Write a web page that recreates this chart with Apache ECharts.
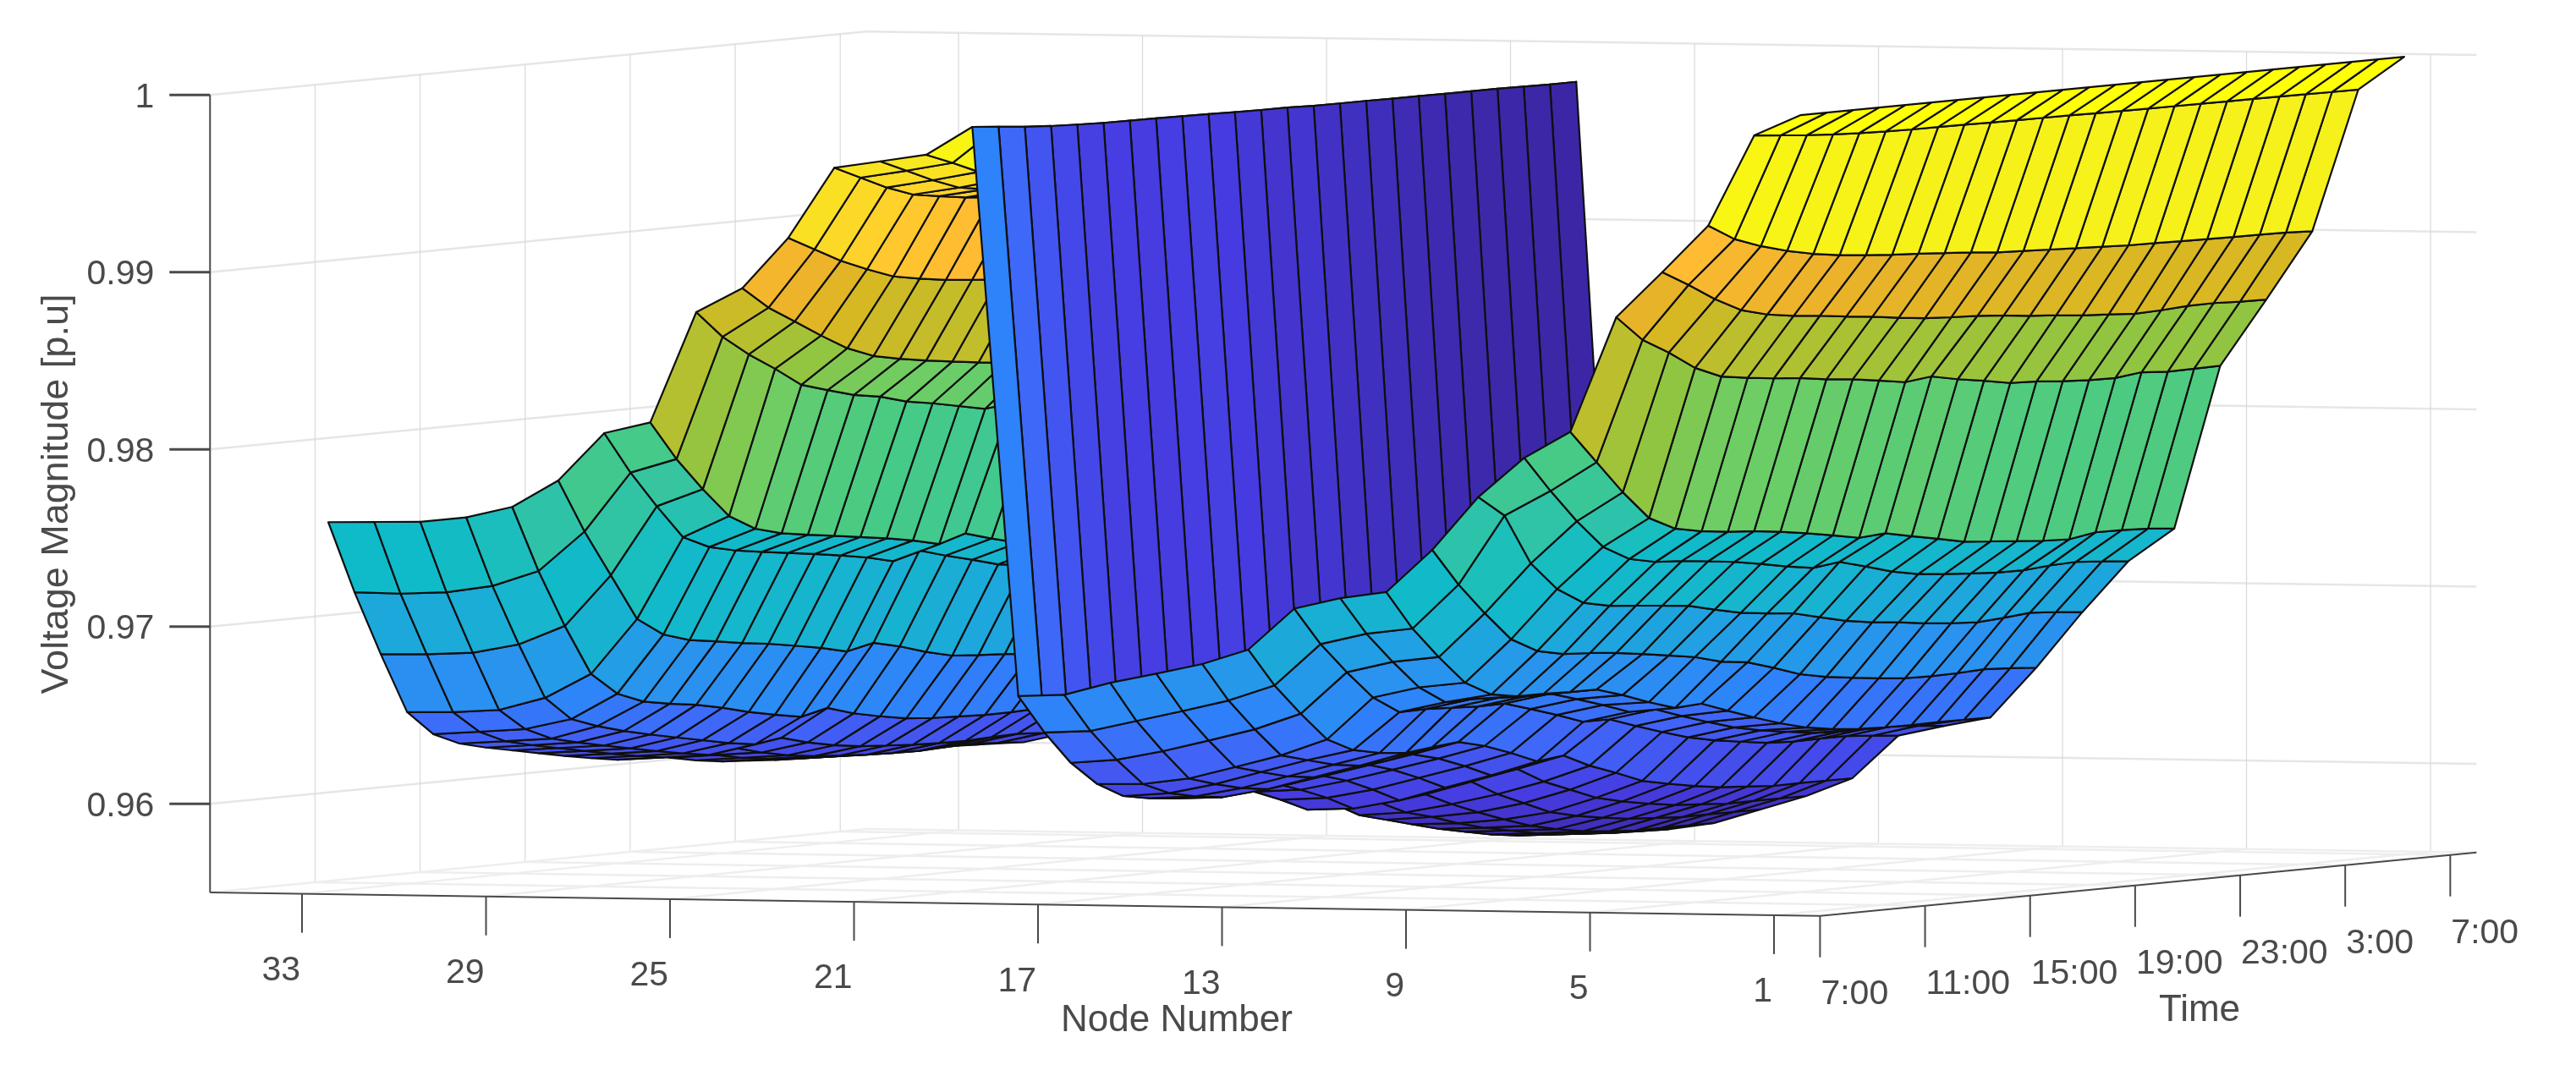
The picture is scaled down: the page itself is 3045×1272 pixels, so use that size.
<!DOCTYPE html>
<html>
<head>
<meta charset="utf-8">
<title>Voltage magnitude surface</title>
<style>html,body{margin:0;padding:0;background:#fff;}#main{width:3045px;height:1272px;}</style>
<script src="https://cdn.jsdelivr.net/npm/echarts@6/dist/echarts.min.js"></script>
</head>
<body>
<div id="main"></div>
<script>
// ---------- data ----------
const nodeTickLabels = [33, 29, 25, 21, 17, 13, 9, 5, 1];
const timeTickLabels = ['7:00', '11:00', '15:00', '19:00', '23:00', '3:00', '7:00'];
const timeTickSteps = [0, 4, 8, 12, 16, 20, 24];
const voltageTicks = [0.96, 0.97, 0.98, 0.99, 1];
const voltageTickLabels = ['0.96', '0.97', '0.98', '0.99', '1'];
const nodeTitle = 'Node Number';
const timeTitle = 'Time';
const voltageTitle = 'Voltage Magnitude [p.u]';

// one row per node (1..33), one value per hour step (1..24)
const node1  = [1,1,1,1,1,1,1,1,1,1,1,1,1,1,1,1,1,1,1,1,1,1,1,1];
const node2  = [.99882,.99868,.99855,.99845,.99838,.99833,.9983,.99829,.99828,.99826,.99825,.99824,.99823,.99821,.9982,.99819,.99818,.99817,.99816,.99816,.99815,.99814,.99812,.99811];
const node3  = [.99369,.99279,.99225,.99184,.99153,.99131,.99117,.99105,.99096,.99086,.99075,.99061,.99055,.99048,.99042,.99036,.99029,.99027,.99024,.99021,.99019,.99018,.99015,.99008];
const node4  = [.99103,.99017,.98923,.98846,.98807,.98785,.98771,.98753,.98737,.98717,.987,.98691,.98685,.98673,.98656,.98645,.9863,.98621,.98611,.98616,.98626,.98628,.98621,.98619];
const node5  = [.98845,.98703,.98617,.98516,.98453,.98431,.98414,.98402,.9838,.98366,.98344,.98321,.98339,.98309,.98286,.98259,.98254,.9824,.98232,.9823,.98248,.98237,.98239,.98242];
const node6  = [.98194,.98009,.97825,.97665,.97591,.97562,.97545,.97534,.97516,.97493,.97467,.97439,.9745,.97419,.97391,.9736,.97347,.97335,.97322,.97316,.97341,.97339,.97333,.97319];
const node7  = [.98044,.97843,.97658,.97499,.97416,.97385,.97376,.9736,.97342,.97316,.97288,.97265,.97285,.97245,.97202,.97173,.97159,.97148,.97139,.97137,.9715,.97156,.97145,.97131];
const node8  = [.97819,.977,.97416,.97257,.97165,.97134,.9712,.97106,.97091,.97055,.97023,.97005,.96991,.96955,.9692,.96897,.96883,.96863,.96849,.9684,.96851,.96865,.96855,.9684];
const node9  = [.97517,.97307,.97131,.9697,.96889,.96858,.96849,.96835,.96815,.96792,.96769,.96729,.96711,.96666,.96615,.96586,.96567,.96549,.96535,.96532,.96535,.96543,.96534,.96523];
const node10 = [.97275,.97055,.9688,.96721,.9664,.96616,.96616,.96611,.96611,.96565,.96511,.96464,.96474,.9642,.96368,.9632,.96282,.96259,.96245,.9624,.96239,.96241,.9624,.96238];
const node11 = [.97237,.97022,.96849,.96691,.96593,.96596,.96589,.96582,.96584,.96539,.96491,.96438,.96438,.96386,.96338,.96293,.96262,.9624,.96219,.96212,.96214,.96214,.96202,.96187];
const node12 = [.97174,.9696,.96787,.9663,.96533,.96536,.96529,.96522,.96524,.96479,.96431,.96378,.96378,.96326,.96278,.96233,.96202,.9618,.96159,.96152,.96154,.96154,.96142,.96128];
const node13 = [.96939,.96723,.96549,.9639,.96315,.96285,.9627,.96288,.96303,.96267,.96213,.96151,.9617,.96098,.96044,.95984,.95953,.95926,.95905,.95895,.95884,.95886,.95885,.95884];
const node14 = [.96854,.96634,.96457,.96296,.96255,.96215,.96195,.96208,.9623,.96192,.96135,.96068,.9609,.96005,.95945,.95885,.9585,.95823,.95801,.95791,.9578,.95782,.95781,.9578];
const node15 = [.96796,.96571,.9639,.96226,.96184,.96145,.96125,.9614,.9617,.96125,.96065,.95995,.96015,.9593,.95865,.958,.95765,.9574,.9572,.9571,.957,.95702,.95701,.957];
const node16 = [.96741,.96511,.96326,.96158,.96112,.96075,.96055,.96075,.96105,.9606,.95995,.9592,.9594,.9587,.9581,.95755,.95705,.95672,.95645,.95631,.9562,.95622,.95621,.9562];
const node17 = [.96669,.96451,.96274,.96123,.96057,.96025,.96005,.96025,.96055,.96005,.95945,.9587,.9589,.9582,.9578,.9573,.9569,.9566,.9563,.9561,.956,.9559,.95585,.9558];
const node18 = [.96658,.96438,.96253,.9612,.96037,.9601,.95995,.9601,.96025,.9599,.9593,.9586,.9588,.958,.9576,.9572,.9568,.9565,.9562,.956,.9559,.9558,.95575,.9557];
const node19 = [.99866,.99852,.99838,.99828,.99822,.99817,.99815,.99814,.99812,.99809,.99806,.99804,.99803,.99799,.99798,.99798,.99796,.99796,.99795,.99795,.99795,.99793,.9979,.99791];
const node20 = [.99705,.99645,.9958,.99525,.99505,.99485,.99473,.99462,.99452,.99443,.99433,.99423,.99427,.99416,.99406,.99396,.9939,.99384,.9938,.99378,.99382,.99383,.99379,.99372];
const node21 = [.99664,.99597,.99529,.99473,.9945,.9943,.99418,.99407,.99397,.99388,.99378,.99368,.99372,.99361,.99351,.99341,.99335,.99329,.99325,.99323,.99327,.99328,.99324,.99317];
const node22 = [.99624,.99554,.99484,.9943,.99407,.99385,.99372,.9936,.9935,.99342,.99332,.99322,.99326,.99315,.99305,.99295,.99288,.99282,.99278,.99276,.9928,.99281,.99277,.9927];
const node23 = [.99225,.99146,.99067,.99005,.9895,.98923,.98902,.98888,.98875,.98862,.98848,.98835,.98842,.98825,.98805,.98785,.98772,.98762,.98755,.98752,.9876,.98762,.98755,.98745];
const node24 = [.98937,.98813,.98721,.98627,.98541,.98483,.98453,.98429,.98409,.9839,.98372,.98352,.98365,.98342,.98318,.98295,.98282,.98272,.98264,.98262,.98272,.98276,.98268,.98255];
const node25 = [.98798,.98645,.98531,.98436,.98331,.98287,.98245,.98221,.98179,.98155,.98125,.98095,.98112,.98085,.9806,.98035,.98022,.9801,.98002,.98,.98012,.98016,.98008,.97995];
const node26 = [.98172,.97951,.97767,.97601,.97515,.97475,.97452,.97432,.97411,.97389,.97363,.97328,.97374,.97331,.97293,.97253,.97235,.97222,.97212,.9721,.97225,.9723,.9722,.97205];
const node27 = [.98108,.97871,.97667,.97478,.97408,.97374,.97352,.97332,.97311,.97289,.97263,.97228,.97274,.97231,.97193,.97153,.97135,.97122,.97112,.9711,.97125,.9713,.9712,.97105];
const node28 = [.97837,.97535,.97274,.97013,.96911,.96865,.96843,.9682,.96801,.96776,.96749,.96715,.96749,.96715,.96669,.96634,.96623,.96614,.966,.96597,.96605,.9661,.96603,.96595];
const node29 = [.97684,.97308,.96984,.96699,.96573,.96514,.96488,.96467,.96436,.96398,.96368,.96342,.96378,.96333,.96302,.96276,.96264,.96259,.96253,.96254,.9626,.96263,.96255,.96245];
const node30 = [.97621,.9722,.96876,.9656,.96426,.96372,.9633,.96296,.96265,.96235,.96205,.96183,.96206,.96165,.96135,.96115,.96105,.96095,.9609,.96088,.96095,.961,.9609,.9608];
const node31 = [.97592,.97181,.96825,.96488,.96366,.96298,.96262,.9623,.962,.9617,.96143,.9612,.96145,.96105,.96075,.96055,.96045,.96035,.9603,.96028,.96035,.9604,.9603,.9602];
const node32 = [.97588,.97169,.96813,.96472,.96347,.96279,.96243,.96212,.96182,.96152,.96125,.96102,.96127,.96087,.96057,.96037,.96027,.96017,.96012,.9601,.96017,.96022,.96012,.96002];
const node33 = [.97583,.97173,.96809,.96469,.96329,.96262,.96225,.96195,.96165,.96135,.96108,.96085,.96108,.96068,.96038,.96018,.96008,.95998,.95992,.9599,.95998,.96003,.95993,.95983];

const voltage = [node1,node2,node3,node4,node5,node6,node7,node8,node9,node10,node11,node12,node13,node14,node15,node16,node17,node18,node19,node20,node21,node22,node23,node24,node25,node26,node27,node28,node29,node30,node31,node32,node33];

// colour scale: voltage -> parula-like colour
const colourVolts = [.9557,.96,.964,.9666,.9684,.9713,.9732,.9759,.9782,.9819,.9843,.9862,.988,.9901,.9913,.9937,.9945,.9963,.998,1];
const colourRGB = [[60,38,165],[70,60,225],[65,100,248],[46,130,250],[42,145,240],[30,165,222],[22,182,205],[15,187,200],[45,195,170],[70,202,135],[110,205,100],[145,197,65],[180,192,48],[215,184,34],[235,178,42],[255,187,50],[255,205,45],[250,225,35],[245,240,28],[255,255,5]];

// ---------- 3-D view of the box ----------
const NODE_MAX = 35, TIME_MAX = 25, V_MIN = 0.955, V_MAX = 1;
const VIEW = {ox: 2151.4, oy: 1082.7, nx: -54.375, ny: -0.79, tx: 31.04, ty: -3, vy: -20950};
function project(node, time, volt) {
  return [VIEW.ox + VIEW.nx * node + VIEW.tx * time,
          VIEW.oy + VIEW.ny * node + VIEW.ty * time + VIEW.vy * (volt - V_MIN)];
}
function colourOf(v) {
  let i = 0;
  while (i < colourVolts.length - 2 && v > colourVolts[i + 1]) i++;
  const f = Math.max(0, Math.min(1, (v - colourVolts[i]) / (colourVolts[i + 1] - colourVolts[i])));
  const a = colourRGB[i], b = colourRGB[i + 1];
  return 'rgb(' + [0, 1, 2].map(k => Math.round(a[k] + (b[k] - a[k]) * f)).join(',') + ')';
}

// cells drawn far to near: late hours first, high node numbers first
const cells = [];
for (let t = 22; t >= 0; t--) for (let n = 31; n >= 0; n--) cells.push([n, t]);

// guide lines in box coordinates
const nodeSteps = nodeTickLabels.slice();
const timeSteps = timeTickSteps.slice();
const gridLines = [];
voltageTicks.forEach(v => {
  gridLines.push({a: [NODE_MAX, 0, v], b: [NODE_MAX, TIME_MAX, v], w: 2.5, c: '#e6e6e6'});
  gridLines.push({a: [NODE_MAX, TIME_MAX, v], b: [0, TIME_MAX, v], w: 2.5, c: '#e6e6e6'});
});
timeSteps.forEach(t => {
  if (t > 0) gridLines.push({a: [NODE_MAX, t, V_MIN], b: [NODE_MAX, t, V_MAX], w: 1.2, c: '#d9d9d9'});
  if (t > 0) gridLines.push({a: [NODE_MAX, t, V_MIN], b: [0, t, V_MIN], w: 2.5, c: '#eeeeee'});
});
nodeSteps.forEach(n => {
  gridLines.push({a: [n, TIME_MAX, V_MIN], b: [n, TIME_MAX, V_MAX], w: 1.2, c: '#d9d9d9'});
  gridLines.push({a: [n, 0, V_MIN], b: [n, TIME_MAX, V_MIN], w: 2.5, c: '#eeeeee'});
});
gridLines.push({a: [NODE_MAX, 0, V_MIN], b: [NODE_MAX, TIME_MAX, V_MIN], w: 2.5, c: '#eeeeee'});
gridLines.push({a: [NODE_MAX, TIME_MAX, V_MIN], b: [0, TIME_MAX, V_MIN], w: 2.5, c: '#eeeeee'});

const axisLines = [
  {a: [NODE_MAX, 0, V_MIN], b: [NODE_MAX, 0, V_MAX]},
  {a: [NODE_MAX, 0, V_MIN], b: [0, 0, V_MIN]},
  {a: [0, 0, V_MIN], b: [0, TIME_MAX, V_MIN]}
];
const TICK_NODE = 46, TICK_TIME = 49, TICK_V = 48;
const TEXT = '#4a4a4a', FONT = '"Liberation Sans", Arial, sans-serif';

const labels = [];
nodeTickLabels.forEach(n => labels.push({p: [n, 0, V_MIN], dx: -2, dy: 91, text: String(n), align: 'right', size: 41}));
timeTickLabels.forEach((s, i) => labels.push({p: [0, timeTickSteps[i], V_MIN], dx: 1, dy: 93, text: s, align: 'left', size: 41}));
voltageTicks.forEach((v, i) => labels.push({p: [NODE_MAX, 0, v], dx: -66, dy: 3, text: voltageTickLabels[i], align: 'right', size: 41}));

function seg(api, a, b) {
  const p = api.coord(project(a[0], a[1], a[2]));
  const q = api.coord(project(b[0], b[1], b[2]));
  return {x1: p[0], y1: p[1], x2: q[0], y2: q[1]};
}

const option = {
  animation: false,
  backgroundColor: '#ffffff',
  grid: {left: 0, right: 0, top: 0, bottom: 0},
  xAxis: {type: 'value', min: 0, max: 3045, show: false},
  yAxis: {type: 'value', min: 0, max: 1272, inverse: true, show: false},
  series: [
    {
      type: 'custom', silent: true, clip: false, z: 1, coordinateSystem: 'cartesian2d',
      data: gridLines.map((g, i) => [i, 0]),
      renderItem: (params, api) => {
        const g = gridLines[params.dataIndex];
        return {type: 'line', shape: seg(api, g.a, g.b), style: {stroke: g.c, lineWidth: g.w, fill: null}};
      }
    },
    {
      type: 'custom', silent: true, clip: false, z: 2, progressive: 0, coordinateSystem: 'cartesian2d',
      data: cells,
      renderItem: (params, api) => {
        const n = api.value(0), t = api.value(1);
        const corners = [[n, t], [n + 1, t], [n + 1, t + 1], [n, t + 1]];
        const points = corners.map(c => api.coord(project(c[0] + 1, c[1] + 1, voltage[c[0]][c[1]])));
        return {
          type: 'polygon', shape: {points: points},
          style: {fill: colourOf(voltage[n][t]), stroke: '#0f0f0f', lineWidth: 2.2, lineJoin: 'round'}
        };
      }
    },
    {
      type: 'custom', silent: true, clip: false, z: 3, coordinateSystem: 'cartesian2d',
      data: [[0, 0]],
      renderItem: (params, api) => {
        const stroke = {stroke: '#4a4a4a', lineWidth: 2, fill: null};
        const kids = axisLines.map(l => ({type: 'line', shape: seg(api, l.a, l.b), style: stroke}));
        nodeTickLabels.forEach(n => {
          const p = api.coord(project(n, 0, V_MIN));
          kids.push({type: 'line', shape: {x1: p[0], y1: p[1], x2: p[0], y2: p[1] + TICK_NODE}, style: stroke});
        });
        timeTickSteps.forEach(t => {
          const p = api.coord(project(0, t, V_MIN));
          kids.push({type: 'line', shape: {x1: p[0], y1: p[1], x2: p[0], y2: p[1] + TICK_TIME}, style: stroke});
        });
        voltageTicks.forEach(v => {
          const p = api.coord(project(NODE_MAX, 0, v));
          kids.push({type: 'line', shape: {x1: p[0], y1: p[1], x2: p[0] - TICK_V, y2: p[1]}, style: {stroke: '#4a4a4a', lineWidth: 3, fill: null}});
        });
        labels.forEach(l => {
          const p = api.coord(project(l.p[0], l.p[1], l.p[2]));
          kids.push({type: 'text', x: p[0] + l.dx, y: p[1] + l.dy, style: {
            text: l.text, fill: TEXT, font: l.size + 'px ' + FONT, textAlign: l.align, textVerticalAlign: 'middle'}});
        });
        const a = api.coord([1391, 1207]), b = api.coord([2600, 1195]), c = api.coord([68, 584]);
        kids.push({type: 'text', x: a[0], y: a[1], style: {text: nodeTitle, fill: TEXT, font: '44px ' + FONT, textAlign: 'center', textVerticalAlign: 'middle'}});
        kids.push({type: 'text', x: b[0], y: b[1], style: {text: timeTitle, fill: TEXT, font: '44px ' + FONT, textAlign: 'center', textVerticalAlign: 'middle'}});
        kids.push({type: 'text', x: c[0], y: c[1], rotation: Math.PI / 2, style: {text: voltageTitle, fill: TEXT, font: '45px ' + FONT, textAlign: 'center', textVerticalAlign: 'middle'}});
        return {type: 'group', children: kids};
      }
    }
  ]
};
const chart = echarts.init(document.getElementById('main'), null, {renderer: 'canvas'});
chart.setOption(option);
</script>
</body>
</html>
